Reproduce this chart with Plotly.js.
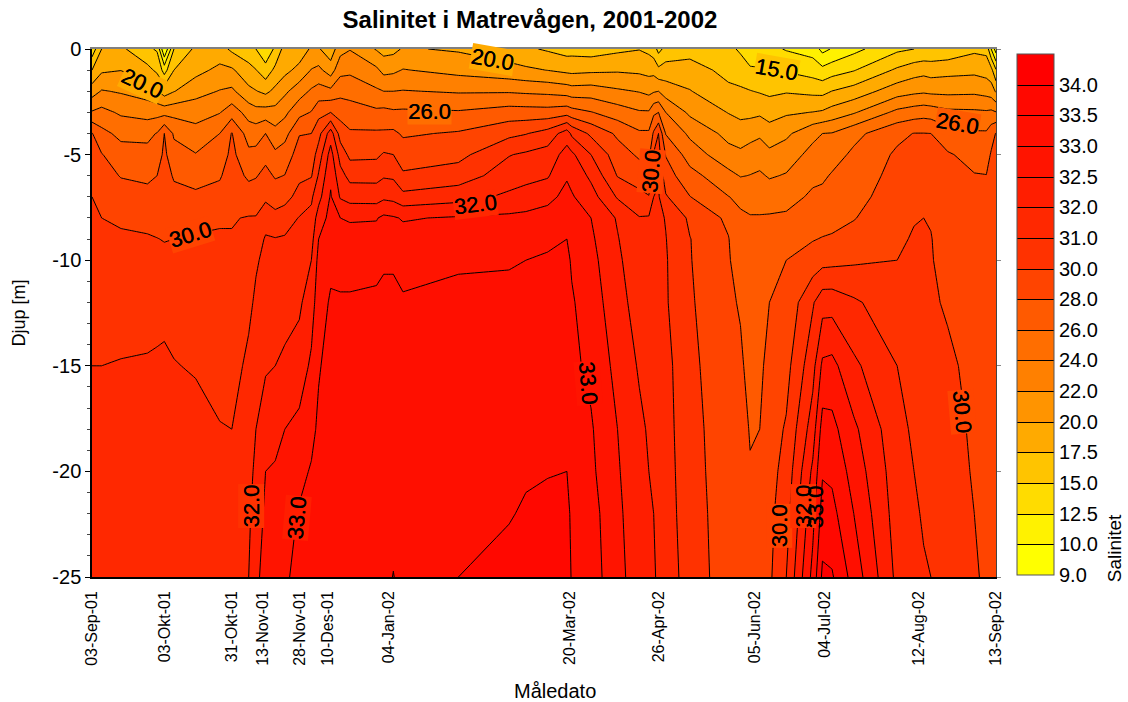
<!DOCTYPE html>
<html>
<head>
<meta charset="utf-8">
<script src="https://cdn.plot.ly/plotly-3.0.1.min.js"></script>
<style>body{margin:0;background:#fff}</style>
</head>
<body>
<div id="chart" style="width:1128px;height:702px"></div>
<script>
var fontName = '"Liberation Sans", Arial, sans-serif';

var depths = [0,-1,-2,-3,-4,-5,-6,-7,-8,-9,-10,-12,-15,-18,-20,-22,-25];

var dates = ['2001-09-03','2001-09-07','2001-09-15','2001-09-26','2001-09-30','2001-10-03','2001-10-07','2001-10-16','2001-10-26','2001-10-31',
  '2001-11-07','2001-11-10','2001-11-14','2001-11-18','2001-11-22','2001-11-28','2001-12-03','2001-12-06','2001-12-11','2001-12-15',
  '2001-12-19','2001-12-30','2002-01-02','2002-01-06','2002-01-10','2002-02-02','2002-02-23','2002-03-02','2002-03-11','2002-03-19','2002-03-21',
  '2002-03-29','2002-04-09','2002-04-18','2002-04-22','2002-04-24','2002-04-26','2002-04-29','2002-05-09','2002-05-25','2002-05-30',
  '2002-06-03','2002-06-07','2002-06-11','2002-06-18','2002-06-29','2002-07-03','2002-07-07','2002-07-16','2002-08-03','2002-08-10',
  '2002-08-14','2002-08-17','2002-08-24','2002-09-04','2002-09-09','2002-09-11','2002-09-13'];

// one row per date, top to bottom along depths
var salinity = [
  [13.5,17.5,21.1,24.2,28.1,28.7,29.4,30,30.1,30.25,30.4,30.6,31,31.2,31.3,31.4,31.6],
  [17.5,19.6,22.15,24.6,26.55,28.1,28.76,29.4,30,30.15,30.3,30.6,31,31.2,31.3,31.4,31.6],
  [18,19.95,21.8,23.7,25.5,26.8,27.9,28.85,29.8,30.1,30.3,30.6,31.05,31.3,31.4,31.5,31.7],
  [15.5,18.25,21.1,23.2,25.5,26.6,27.65,28.55,29.4,30.1,30.25,30.6,31.1,31.4,31.5,31.6,31.8],
  [14.7,17,20.2,23.3,26.1,27.05,28,28.7,29.4,30.02,30.2,30.65,31.15,31.5,31.6,31.7,31.85],
  [9,14,18.75,23.3,28,28.4,28.8,29.15,29.55,29.93,30.2,30.6,31.25,31.7,31.8,31.85,31.95],
  [15,17.5,19.9,23.4,25.7,26.8,27.8,28.55,29.3,30,30.2,30.6,31.05,31.4,31.6,31.7,31.85],
  [18,19.2,21.3,23.2,24.7,26.1,27.25,28.4,29.4,30.1,30.2,30.5,30.9,31.4,31.55,31.7,31.85],
  [18.5,20.5,22.1,23.9,26,26.9,27.8,28.7,29.8,30.1,30.25,30.4,30.65,31.05,31.4,31.6,31.8],
  [17,20.3,22.4,25.1,28.1,28.5,28.95,29.4,29.9,30.05,30.2,30.4,30.65,31,31.25,31.5,31.85],
  [16,18.3,20.5,23.2,25.1,26.5,27.65,28.95,30.05,30.2,30.4,30.8,31.2,31.5,31.7,31.85,32],
  [15,17.6,20.1,22.7,25.1,26.6,27.85,29.1,30.05,30.5,30.9,31.15,31.55,32,32.1,32.2,32.35],
  [13,16,19.4,22.85,26,27.4,28.6,29.6,30.6,31.1,31.2,31.5,31.9,32.25,32.5,32.6,32.75],
  [15.5,18.1,20.5,22.7,24.7,26.4,27.8,29.1,30.3,31.05,31.1,31.5,32,32.35,32.55,32.65,32.8],
  [18.5,19.3,21.6,23.55,25.3,27,28.05,29.3,30.55,31.1,31.2,31.6,32.1,32.5,32.65,32.75,32.9],
  [18.5,20.6,23.1,25.4,27.9,28.8,29.6,30.35,31.05,31.25,31.45,31.85,32.2,32.65,32.85,33.05,33.2],
  [20.3,22.1,24.3,26.1,28,28.9,29.85,30.85,31.25,31.65,32,32.25,32.6,32.85,33.05,33.2,33.4],
  [20.2,22.5,24.8,27.4,29.3,30.45,31.1,31.65,32.25,32.5,32.65,32.8,32.95,33.1,33.2,33.3,33.45],
  [18.5,21,24.5,28,31.5,32.2,32.4,32.55,32.65,32.8,32.9,33.05,33.2,33.3,33.35,33.4,33.45],
  [21.3,23.4,25.4,27.25,29.15,30.6,31.35,31.9,32.5,32.7,32.85,33.05,33.25,33.35,33.4,33.45,33.45],
  [21.9,23.6,25.3,26.9,28.25,29.5,30.7,31.6,32.45,32.68,32.85,33.05,33.25,33.35,33.4,33.45,33.45],
  [19.8,22.4,24.3,26.4,28.3,29.6,30.7,31.55,32.47,32.68,32.85,33.1,33.2,33.3,33.35,33.4,33.45],
  [19.1,21.4,24,26.55,28.3,30.1,30.9,31.8,32.6,32.8,32.95,33.1,33.25,33.3,33.35,33.4,33.45],
  [19.3,21.6,24,26.3,28.4,30,30.85,31.7,32.55,32.8,32.95,33.1,33.2,33.3,33.35,33.45,33.505],
  [20.2,22.1,24.1,26.35,27.75,29,30.15,31.3,32.46,32.68,32.85,33.05,33.15,33.3,33.35,33.4,33.45],
  [19.7,21.4,23.8,26.2,28.2,29.4,30.5,31.6,32.55,32.8,32.95,33.1,33.2,33.3,33.35,33.4,33.5],
  [18.5,20.7,23.8,26.9,29.5,30.95,31.5,32.1,32.6,32.82,32.97,33.1,33.2,33.3,33.35,33.47,33.65],
  [17.9,20.35,23.65,26.85,29.9,31.15,31.7,32.2,32.63,32.85,33,33.1,33.2,33.35,33.45,33.55,33.72],
  [17.2,19.95,23.5,26.8,30.4,31.4,31.9,32.35,32.72,32.92,33.05,33.1,33.2,33.35,33.48,33.6,33.75],
  [16.5,19.4,23.15,27.2,31.5,32.2,32.45,32.65,32.88,33,33.1,33.15,33.3,33.4,33.5,33.65,33.8],
  [16.6,19.3,22.9,26.8,30.8,32.1,32.35,32.55,32.65,32.82,32.95,33.05,33.1,33.2,33.3,33.4,33.45],
  [16.3,19.5,23,26.1,29.6,31,31.8,32.2,32.5,32.58,32.65,32.75,32.9,33.05,33.1,33.2,33.25],
  [17,19.7,22.3,25,27.65,28.9,29.9,30.9,31.9,32.03,32.1,32.2,32.35,32.5,32.55,32.6,32.65],
  [17.4,19.5,21.9,24.2,26.3,27.7,29,30.3,31.05,31.2,31.3,31.55,31.9,32.1,32.15,32.2,32.25],
  [16.9,19.2,21.5,24.2,26.3,27.5,28.75,30.05,31.1,31.2,31.3,31.45,31.7,31.9,32,32.05,32.1],
  [16.2,19.2,21.8,25.6,28.3,30.1,30.55,31,31.1,31.2,31.3,31.45,31.65,31.8,31.9,32,32.05],
  [14.2,18.1,22,26,30,30.35,30.9,31.1,31.2,31.28,31.35,31.45,31.6,31.7,31.75,31.8,31.85],
  [15.8,18.6,21.05,24,25.9,27.9,28.9,30.1,30.95,31.03,31.08,31.1,31.3,31.35,31.4,31.45,31.6],
  [16.5,18.6,20.1,21.6,23.6,25.1,26.7,28.05,29.65,30.03,30.05,30.12,30.25,30.35,30.4,30.45,30.5],
  [15.7,16.75,18.05,19.9,21.4,22.7,24.6,26.05,27.6,28.08,28.2,28.4,28.6,28.8,28.85,28.95,29.05],
  [14.6,16.3,17.85,19.4,20.9,22.45,23.9,25.6,26.3,26.65,27,27.8,28.35,28.6,28.7,28.8,28.9],
  [12.8,15.5,17.6,19.4,21.2,23,24.05,25.45,26.1,26.2,26.35,26.7,27.3,27.9,28.1,28.2,28.4],
  [13,15.3,17.3,19.55,21.7,23.05,24.3,25.45,26.1,26.3,26.5,26.95,27.55,28,28.1,28.2,28.4],
  [13.2,15.2,17,19,20.9,22.5,23.8,25.15,26.2,26.65,27.1,28,28.7,29.1,29.3,29.5,29.65],
  [12.3,14.75,17.3,19.65,21.6,23.05,24.15,25.35,26.3,27.1,28,28.5,29.35,30.1,30.35,30.6,31],
  [11.5,13.9,16.9,20.05,23.5,24.6,25.6,26.3,27,27.9,28.84,30.9,31.65,32.25,32.6,32.85,33.15],
  [9.7,13.2,16.8,20.25,24,24.8,25.65,26.55,27.2,28.1,29.3,31.6,32.6,33.2,33.45,33.7,34.1],
  [10.2,13.9,17.55,20.8,24.1,25.15,26.2,26.8,27.45,28.2,29.4,31.6,32.65,33.15,33.4,33.65,34.05],
  [11.8,14.85,18.55,21.8,25.4,26.4,26.8,27.3,27.9,28.7,29.7,31.15,32.1,32.6,32.8,33,33.3],
  [14.5,17.9,21.1,24.5,27.55,28.3,28.7,29.05,29.4,29.7,30,30.4,31,31.3,31.45,31.55,31.75],
  [15,18.9,21.55,25,28.05,28.55,29.05,29.4,29.9,30.08,30.15,30.3,30.6,30.85,31,31.15,31.4],
  [15.3,19.2,21.7,25.2,28.05,28.5,29,29.5,30,30.05,30.1,30.25,30.4,30.6,30.75,30.9,31.1],
  [15.5,18.9,21.55,25.05,28,28.5,29,29.5,29.9,30.03,30.05,30.15,30.35,30.5,30.65,30.8,31],
  [15.7,19.2,21.5,24.45,26.8,28.2,28.55,28.85,29.05,29.25,29.45,29.75,30.2,30.4,30.5,30.6,30.7],
  [17,19.4,21.6,24.35,26.25,27.35,28.1,28.35,28.5,28.7,28.85,29.1,29.4,29.65,29.8,30,30.2],
  [16.8,19,21.3,24.25,26.25,27.15,28.05,28.2,28.3,28.4,28.5,28.7,28.9,29.1,29.2,29.3,29.45],
  [12.5,18.3,21,24.4,27.2,28.2,28.4,28.6,28.7,28.8,28.9,29,29.2,29.4,29.5,29.6,29.7],
  [9.5,15.2,19.7,24.1,28.1,28.4,28.7,28.9,29,29.1,29.15,29.25,29.4,29.5,29.6,29.7,29.8]
];

// contour levels are not evenly spaced, plotly only does even steps, so contour on the level number
var levels = [9,10,12.5,15,17.5,20,22,24,26,28,30,31,32,32.5,33,33.5,34,34.5];
var bandColors = ['#FFFF00','#FFF200','#FFDC00','#FFC400','#FFAA00','#FF9400','#FF8000','#FF6E00','#FF5A00',
  '#FF4400','#FF3200','#FF2800','#FF1E00','#FF1400','#FF0F00','#FF0800','#FF0000'];
var levelLabels = ['9.0','10.0','12.5','15.0','17.5','20.0','22.0','24.0','26.0','28.0','30.0','31.0','32.0','32.5','33.0','33.5','34.0'];

var tickDates = ['2001-09-03','2001-10-03','2001-10-31','2001-11-13','2001-11-28','2001-12-10','2002-01-04','2002-03-20','2002-04-26','2002-06-05','2002-07-04','2002-08-12','2002-09-13'];
var tickNames = ['03-Sep-01','03-Okt-01','31-Okt-01','13-Nov-01','28-Nov-01','10-Des-01','04-Jan-02','20-Mar-02','26-Apr-02','05-Jun-02','04-Jul-02','12-Aug-02','13-Sep-02'];
var depthTicks = [0,-5,-10,-15,-20,-25];
var depthNames = ['0','-5','-10','-15','-20','-25'];

// contour labels, band is the fill behind the text (-1 for none)
var labelTexts  = ['20.0','20.0','26.0','30.0','32.0','32.0','33.0','15.0','30.0','26.0','33.0','30.0','30.0','32.0','33.0'];
var labelDates  = ['2001-09-24','2002-02-16','2002-01-21','2001-10-14','2002-02-09','2001-11-08','2001-11-27','2002-06-14','2002-04-23','2002-08-28','2002-03-28','2002-08-30','2002-06-15','2002-06-25','2002-06-30'];
var labelDepths = [-1.62,-0.52,-2.97,-8.8,-7.38,-21.66,-22.18,-0.99,-5.8,-3.52,-15.82,-17.16,-22.6,-21.66,-21.7];
var labelAngles = [25,10,0,-17,-7,-90,-85,10,-85,10,85,85,-90,-90,-90];
var labelBands  = [4,4,7,9,11,10,12,3,9,8,13,9,9,10,-1];

function toBand(s) {
  for (var i = 0; i < levels.length - 1; i++) {
    if (s <= levels[i + 1]) {
      return i + (s - levels[i]) / (levels[i + 1] - levels[i]);
    }
  }
  return levels.length - 1;
}

var zBands = salinity.map(function (col) { return col.map(toBand); });

var colorscale = [];
for (var i = 0; i < bandColors.length; i++) {
  colorscale.push([i / bandColors.length, bandColors[i]]);
  colorscale.push([(i + 1) / bandColors.length, bandColors[i]]);
}

var contour = {
  type: 'contour',
  x: dates,
  y: depths,
  z: zBands,
  transpose: true,
  zmin: 0,
  zmax: bandColors.length,
  autocontour: false,
  contours: {start: 1, end: bandColors.length - 1, size: 1, coloring: 'fill', showlines: true},
  line: {color: '#000', width: 1, smoothing: 0},
  colorscale: colorscale,
  hoverinfo: 'skip',
  colorbar: {
    x: 1.0232, xanchor: 'left',
    y: 0.0038, yanchor: 'bottom',
    len: 521, lenmode: 'pixels',
    thickness: 37, thicknessmode: 'pixels',
    xpad: 0, ypad: 0,
    outlinecolor: '#555', outlinewidth: 1,
    tickmode: 'array',
    tickvals: levelLabels.map(function (t, i) { return i; }),
    ticktext: levelLabels,
    ticks: '',
    tickfont: {family: fontName, size: 20, color: '#000'}
  }
};

// empty trace so the gray right and top axes get drawn
var frame = {type: 'scatter', x: [null], y: [null], xaxis: 'x2', yaxis: 'y2', showlegend: false, hoverinfo: 'skip'};

var annotations = labelTexts.map(function (t, i) {
  return {
    text: t, x: labelDates[i], y: labelDepths[i], xref: 'x', yref: 'y',
    showarrow: false, textangle: labelAngles[i],
    bgcolor: labelBands[i] < 0 ? 'rgba(0,0,0,0)' : bandColors[labelBands[i]], borderpad: 0,
    font: {family: fontName, size: 22, color: '#000', shadow: '0.4px 0 0 #000'}
  };
});
annotations.push({
  text: 'Salinitet', xref: 'paper', yref: 'paper', x: 1.1319, y: 0.055, xanchor: 'center', yanchor: 'middle',
  showarrow: false, textangle: -90,
  font: {family: fontName, size: 19, color: '#000'}
});
annotations.push({
  text: 'Måledato', xref: 'paper', yref: 'paper', x: 0.512, y: -0.2165, xanchor: 'center', yanchor: 'middle',
  showarrow: false,
  font: {family: fontName, size: 20, color: '#000'}
});

var layout = {
  width: 1128, height: 702,
  margin: {l: 92, r: 132, t: 49, b: 125, pad: 0},
  paper_bgcolor: '#fff', plot_bgcolor: '#fff',
  showlegend: false,
  font: {family: fontName, color: '#000'},
  title: {
    text: 'Salinitet i Matrevågen, 2001-2002',
    font: {family: fontName, size: 24, weight: 700, color: '#000'},
    x: 530 / 1128, xanchor: 'center', y: 1 - 20 / 702, yanchor: 'middle'
  },
  xaxis: {
    type: 'date',
    range: ['2001-09-03', '2002-09-13'],
    tickmode: 'array', tickvals: tickDates, ticktext: tickNames,
    tickangle: -90, ticks: 'outside', ticklen: 6, tickcolor: 'rgba(0,0,0,0)',
    showgrid: false, zeroline: false,
    showline: true, linecolor: '#000', linewidth: 1.5,
    tickfont: {family: fontName, size: 16, color: '#000'}
  },
  yaxis: {
    range: [-25, 0],
    tickmode: 'array', tickvals: depthTicks, ticktext: depthNames,
    ticks: 'outside', ticklen: 5, tickwidth: 1, tickcolor: '#000',
    minor: {dtick: 1, ticks: 'outside', ticklen: 3, tickcolor: '#444', tickwidth: 1},
    showgrid: false, zeroline: false,
    showline: true, linecolor: '#000', linewidth: 1.5,
    tickfont: {family: fontName, size: 20, color: '#000'},
    title: {text: 'Djup [m]', font: {family: fontName, size: 18, color: '#000'}, standoff: 22}
  },
  xaxis2: {
    overlaying: 'x', side: 'top', type: 'date', range: ['2001-09-03', '2002-09-13'],
    showline: true, linecolor: '#808080', linewidth: 2,
    showticklabels: false, ticks: '', showgrid: false, zeroline: false
  },
  yaxis2: {
    overlaying: 'y', side: 'right', range: [-25, 0],
    tickmode: 'array', tickvals: depthTicks,
    showline: true, linecolor: '#444', linewidth: 1,
    showticklabels: false, ticks: 'outside', ticklen: 4, tickcolor: '#888',
    showgrid: false, zeroline: false
  },
  annotations: annotations
};

Plotly.newPlot('chart', [contour, frame], layout, {displayModeBar: false});
</script>
</body>
</html>
